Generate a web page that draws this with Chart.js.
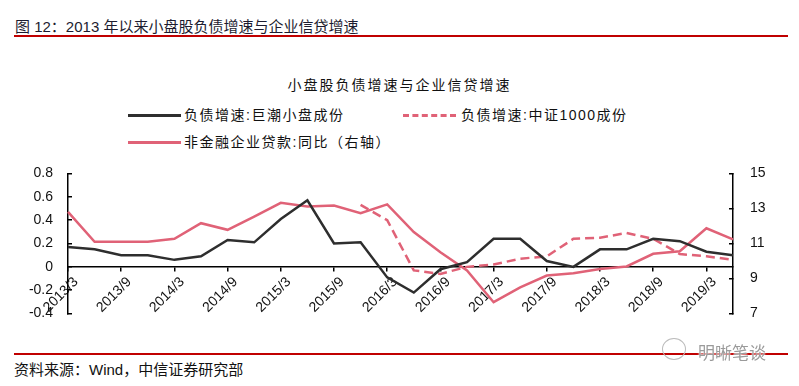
<!DOCTYPE html>
<html lang="zh">
<head>
<meta charset="UTF-8" />
<title>小盘股负债增速与企业信贷增速</title>
<script src="https://cdn.jsdelivr.net/npm/chart.js@4.4.1/dist/chart.umd.min.js"></script>
<style>
  body { margin: 0; width: 799px; height: 386px; background: #fff; position: relative; overflow: hidden;
         font-family: "Liberation Sans", "Noto Sans CJK SC", sans-serif; color: #111; }
  .rule { position: absolute; left: 14px; width: 774px; height: 2px; background: #c00000; }
  #title { position: absolute; left: 15px; top: 15px; font-size: 15px; color: #1c1c30; }
  #ctitle { position: absolute; left: 0; width: 799px; top: 74px; text-align: center;
            font-size: 14px; letter-spacing: 2px; font-family: "Noto Sans CJK SC", sans-serif; }
  .leg { position: absolute; font-size: 14px; letter-spacing: 1.5px; line-height: 18px;
         font-family: "Liberation Sans", "Noto Sans CJK SC", sans-serif; }
  .sw { position: absolute; width: 53px; height: 0; }
  #src { position: absolute; left: 14px; top: 358px; font-size: 15px; }
  #wm { position: absolute; left: 698px; top: 339px; font-size: 17px; color: #9a9a9a;
        font-family: "Noto Sans CJK SC", sans-serif; text-shadow: 0 0 2px #fff, 0 0 2px #fff; }
  #wmicon { position: absolute; left: 662px; top: 338px; width: 22px; height: 20px;
            border: 1.5px solid #bbb; border-radius: 50%; }
  #box { position: absolute; left: 0; top: 144px; }
</style>
</head>
<body>
<div id="title">图 12：2013 年以来小盘股负债增速与企业信贷增速</div>
<div class="rule" style="top:35px"></div>
<div id="ctitle">小盘股负债增速与企业信贷增速</div>

<div class="sw" style="left:128px; top:114px; border-top:3px solid #2e2e2e"></div>
<div class="leg" style="left:184px; top:106px">负债增速:巨潮小盘成份</div>
<div class="sw" style="left:403px; top:114px; border-top:3px dashed #e06277"></div>
<div class="leg" style="left:461px; top:106px">负债增速:中证1000成份</div>
<div class="sw" style="left:128px; top:141px; border-top:3px solid #e06277"></div>
<div class="leg" style="left:184px; top:133px">非金融企业贷款:同比（右轴）</div>

<div id="box"><canvas id="chart" width="799" height="199"></canvas></div>

<div class="rule" style="top:353px"></div>
<div id="src">资料来源：Wind，中信证券研究部</div>
<div id="wmicon"></div>
<div id="wm">明晰笔谈</div>

<script>
const quarters = [
  '2013/3', '2013/6', '2013/9', '2013/12', '2014/3', '2014/6', '2014/9', '2014/12',
  '2015/3', '2015/6', '2015/9', '2015/12', '2016/3', '2016/6', '2016/9', '2016/12',
  '2017/3', '2017/6', '2017/9', '2017/12', '2018/3', '2018/6', '2018/9', '2018/12',
  '2019/3', '2019/6'
];
// 负债增速:巨潮小盘成份 (left axis)
const smallCapDebt = [
  0.17, 0.15, 0.10, 0.10, 0.06, 0.09, 0.23, 0.21,
  0.41, 0.57, 0.20, 0.21, -0.09, -0.22, -0.02, 0.04,
  0.24, 0.24, 0.05, 0.00, 0.15, 0.15, 0.24, 0.22,
  0.13, 0.10
];
// 负债增速:中证1000成份 (left axis)
const csi1000Debt = [
  null, null, null, null, null, null, null, null,
  null, null, null, 0.53, 0.40, -0.03, -0.06, 0.00,
  0.02, 0.07, 0.09, 0.24, 0.25, 0.29, 0.24, 0.11,
  0.09, 0.06
];
// 非金融企业贷款:同比 (right axis)
const corpLoanYoY = [
  12.8, 11.1, 11.1, 11.1, 11.27, 12.16, 11.78, 12.54,
  13.32, 13.11, 13.17, 12.73, 13.23, 11.65, 10.5, 9.46,
  7.65, 8.5, 9.17, 9.3, 9.55, 9.69, 10.41, 10.56,
  11.87, 11.23
];
const leftTicks = { min: -0.4, max: 0.8, step: 0.2 };
const rightTicks = { min: 7, max: 15, step: 2 };

const BLACK = '#2e2e2e';
const PINK = '#e06277';
const tickFont = { family: 'Liberation Sans', size: 14 };

new Chart(document.getElementById('chart'), {
  type: 'line',
  data: {
    labels: quarters,
    datasets: [
      { label: '负债增速:巨潮小盘成份', data: smallCapDebt, yAxisID: 'y',
        borderColor: BLACK, borderWidth: 2.5, pointRadius: 0, tension: 0 },
      { label: '负债增速:中证1000成份', data: csi1000Debt, yAxisID: 'y',
        borderColor: PINK, borderWidth: 2.5, borderDash: [9, 5], pointRadius: 0, tension: 0 },
      { label: '非金融企业贷款:同比（右轴）', data: corpLoanYoY, yAxisID: 'y1',
        borderColor: PINK, borderWidth: 2.5, pointRadius: 0, tension: 0 }
    ]
  },
  options: {
    responsive: false,
    devicePixelRatio: 1,
    animation: false,
    layout: { padding: 0 },
    plugins: { legend: { display: false }, tooltip: { enabled: false } },
    scales: {
      x: {
        type: 'category',
        position: { y: 0 },
        offset: false,
        border: { color: '#000', width: 1.5 },
        grid: { drawOnChartArea: false, drawTicks: true, tickLength: 4, color: '#000', lineWidth: 1.5 },
        ticks: {
          autoSkip: false, minRotation: 45, maxRotation: 45, padding: 3, labelOffset: 8,
          color: '#111', font: { family: 'Liberation Sans', size: 14 },
          callback: function (v, i) {
            const q = quarters[i];
            return (q.endsWith('/3') || q.endsWith('/9')) ? q : null;
          }
        }
      },
      y: {
        position: 'left',
        min: leftTicks.min, max: leftTicks.max,
        border: { color: '#000', width: 1.5 },
        grid: { drawOnChartArea: false, drawTicks: true, tickLength: -4, color: '#000', lineWidth: 1.5 },
        ticks: {
          stepSize: leftTicks.step, autoSkip: false, padding: 19, color: '#111', font: tickFont,
          callback: v => String(Math.round(v * 10) / 10)
        },
        afterFit: s => { s.width = 68; }
      },
      y1: {
        position: 'right',
        min: rightTicks.min, max: rightTicks.max,
        border: { color: '#000', width: 1.5 },
        grid: { drawOnChartArea: false, drawTicks: true, tickLength: -4, color: '#000', lineWidth: 1.5 },
        ticks: { stepSize: rightTicks.step, autoSkip: false, padding: 21, color: '#111', font: tickFont },
        afterFit: s => { s.width = 66; }
      }
    }
  }
});
</script>
</body>
</html>
